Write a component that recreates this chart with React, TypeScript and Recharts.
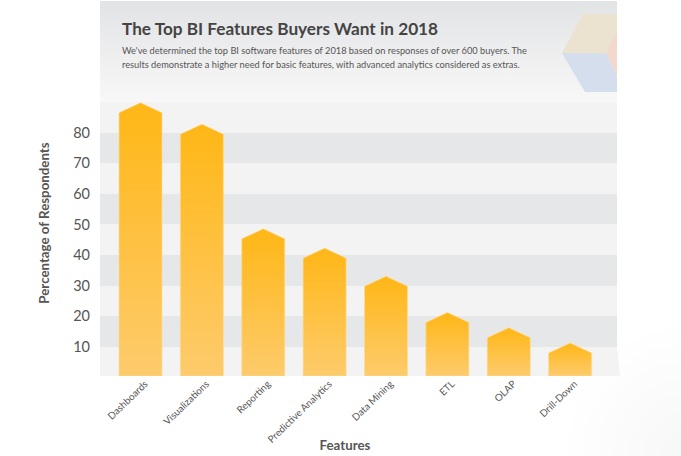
import { BarChart, Bar, XAxis, YAxis, CartesianGrid } from "recharts";

const features = ["Dashboards", "Visualizations", "Reporting", "Predictive Analytics", "Data Mining", "ETL", "OLAP", "Drill-Down"];
const respondents = [86.5, 79.5, 45.3, 39, 29.8, 18, 13, 8];
const yTicks = [10, 20, 30, 40, 50, 60, 70, 80];

const chartData = features.map((feature, i) => ({ feature, respondents: respondents[i] }));

function HouseBar({ x, y, width, height }: any) {
  const peak = 10;
  const points = [
    [x, y + height],
    [x, y],
    [x + width / 2, y - peak],
    [x + width, y],
    [x + width, y + height],
  ].map((p) => p.join(",")).join(" ");
  return <polygon points={points} fill="url(#barFill)" stroke="#ffdc96" strokeWidth={0.6} />;
}

function SlantTick({ x, y, payload }: any) {
  return (
    <text
      x={x + 6}
      y={y - 1}
      transform={`rotate(-44 ${x + 6} ${y - 1})`}
      textAnchor="end"
      dominantBaseline="middle"
      fontSize={9.8}
      fill="#555"
      fontFamily="Lato"
    >
      {payload.value}
    </text>
  );
}

function Backdrop() {
  return (
    <svg width={681} height={456} style={{ position: "absolute", left: 0, top: 0 }}>
      <defs>
        <linearGradient id="headFill" x1="0" y1="0" x2="0" y2="1">
          <stop offset="0%" stopColor="#e2e3e5" />
          <stop offset="100%" stopColor="#f8f8f8" />
        </linearGradient>
        <radialGradient id="cornerFill" cx="1" cy="1" r="1">
          <stop offset="0%" stopColor="#f7f7f8" />
          <stop offset="100%" stopColor="#ffffff" />
        </radialGradient>
      </defs>
      <rect x={560} y={320} width={121} height={136} fill="url(#cornerFill)" />
      <rect x={100} y={1} width={517} height={101} fill="url(#headFill)" />
      <polygon points="562,53 583,14 617,14 617,30 606,53" fill="#ebe3d0" />
      <polygon points="606,53 617,30 617,77" fill="#f3d9cd" />
      <polygon points="562,53 606,53 617,77 617,92 585,92" fill="#d4deed" />
      <polygon points="100,347 103,376 620,376 617,347" fill="#f3f3f4" />
      {/* axis titles */}
      <text x={345} y={447} textAnchor="middle" dominantBaseline="middle" fontSize={13.3} fontWeight={700} fill="#555" fontFamily="Lato">
        Features
      </text>
      <text x={46} y={223} transform="rotate(-90 46 223)" textAnchor="middle" dominantBaseline="middle" fontSize={13.3} fontWeight={700} fill="#555" fontFamily="Lato">
        Percentage of Respondents
      </text>
    </svg>
  );
}

export default function App() {
  return (
    <div style={{ position: "absolute", left: 0, top: 0, width: 681, height: 456, overflow: "hidden", background: "#fff", fontFamily: "Lato" }}>
      <Backdrop />

      <div style={{ position: "absolute", left: 122, top: 18, fontSize: 17.2, fontWeight: 700, color: "#444", whiteSpace: "nowrap" }}>
        The Top BI Features Buyers Want in 2018
      </div>
      <div style={{ position: "absolute", left: 122, top: 44, fontSize: 9.25, lineHeight: "13.5px", color: "#555", whiteSpace: "nowrap" }}>
        We've determined the top BI software features of 2018 based on responses of over 600 buyers. The
        <br />
        results demonstrate a higher need for basic features, with advanced analytics considered as extras.
      </div>

      <div style={{ position: "absolute", left: 0, top: 0 }}>
        <BarChart width={681} height={456} data={chartData} margin={{ top: 102, right: 64, bottom: 10, left: 40 }}>
          <defs>
            <linearGradient id="barFill" x1="0" y1="0" x2="0" y2="1">
              <stop offset="0%" stopColor="#ffb716" />
              <stop offset="100%" stopColor="#fdcb6c" />
            </linearGradient>
          </defs>
          <CartesianGrid vertical={false} stroke="none" horizontalFill={["#f3f3f4", "#e6e7e9"]} />
          <XAxis
            dataKey="feature"
            interval={0}
            height={70}
            axisLine={false}
            tickLine={false}
            padding={{ left: 10, right: 16 }}
            tick={<SlantTick />}
          />
          <YAxis
            width={60}
            domain={[0.5, 90]}
            ticks={yTicks}
            allowDataOverflow
            axisLine={false}
            tickLine={false}
            tickMargin={4}
            tick={{ fontSize: 14.5, fill: "#555", fontFamily: "Lato" }}
          />
          <Bar dataKey="respondents" barSize={43} shape={<HouseBar />} isAnimationActive={false} />
        </BarChart>
      </div>
    </div>
  );
}
